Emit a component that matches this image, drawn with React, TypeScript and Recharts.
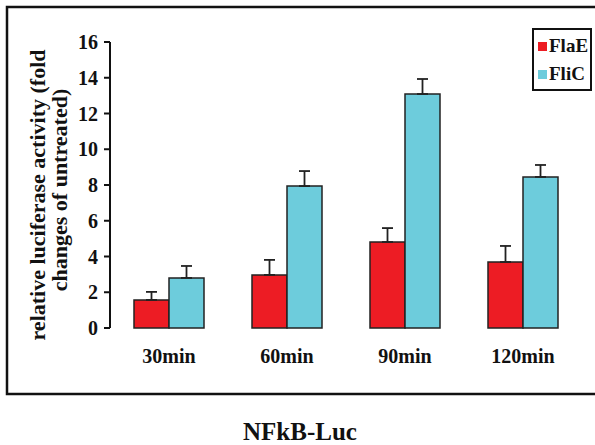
import React from 'react';
import { BarChart, Bar, XAxis, YAxis, ErrorBar, Legend } from 'recharts';

const categories = ['30min', '60min', '90min', '120min'];
const flaE = [1.57, 2.97, 4.81, 3.69];
const fliC = [2.8, 7.94, 13.09, 8.45];
const flaEErr = [0.45, 0.84, 0.78, 0.9];
const fliCErr = [0.67, 0.84, 0.84, 0.67];
const yTicks = [0, 2, 4, 6, 8, 10, 12, 14, 16];
const edgeTicks = [0, 1, 2, 3, 4];
const seriesNames = ['FlaE', 'FliC'];
const title = 'NFkB-Luc';
const yLabelLines = ['relative luciferase activity (fold', 'changes of untreated)'];

const RED = '#ED1C24';
const CYAN = '#6DCCDC';
const FONT = '"Liberation Serif", "Times New Roman", serif';

const data = categories.map((c, i) => ({
  cat: c,
  flaE: flaE[i],
  fliC: fliC[i],
  flaEErr: [0, flaEErr[i]],
  fliCErr: [0, fliCErr[i]],
}));

const LegendBox = () => (
  <div
    style={{
      width: 56,
      height: 59,
      border: '2px solid #111',
      background: '#fff',
      fontFamily: FONT,
      fontWeight: 'bold',
      fontSize: 19,
      color: '#111',
      boxSizing: 'content-box',
    }}
  >
    {seriesNames.map((n, i) => (
      <div key={n} style={{ display: 'flex', alignItems: 'center', height: 28, marginTop: i === 0 ? 2 : 0 }}>
        <span style={{ display: 'inline-block', width: 9, height: 9, background: i === 0 ? RED : CYAN, marginLeft: 4, marginRight: 2 }} />
        <span style={{ lineHeight: '20px', fontFamily: FONT }}>{n}</span>
      </div>
    ))}
  </div>
);

export default function App() {
  return (
    <div style={{ position: 'absolute', left: 0, top: 0, width: 595, height: 445, background: '#fff', overflow: 'hidden' }}>
      <svg width={595} height={445} style={{ position: 'absolute', left: 0, top: 0 }}>
        <rect x={7} y={7} width={600} height={387} fill="none" stroke="#111" strokeWidth={2.5} />
        <text x={300} y={440} textAnchor="middle" fontFamily={FONT} fontWeight="bold" fontSize={25} fill="#111">
          {title}
        </text>
        <text transform="translate(45,195) rotate(-90)" textAnchor="middle" fontFamily={FONT} fontWeight="bold" fontSize={22} fill="#111">
          {yLabelLines[0]}
        </text>
        <text transform="translate(67,190) rotate(-90)" textAnchor="middle" fontFamily={FONT} fontWeight="bold" fontSize={22} fill="#111">
          {yLabelLines[1]}
        </text>
      </svg>
      <div style={{ position: 'absolute', left: 0, top: 0 }}>
        <BarChart
          width={595}
          height={445}
          data={data}
          margin={{ top: 42, right: 13, left: 60, bottom: 77 }}
          barGap={0}
          barSize={35}
        >
          <XAxis
            xAxisId="edges"
            type="number"
            domain={[0, 4]}
            allowDataOverflow
            ticks={edgeTicks}
            tick={false}
            tickSize={7}
            height={0}
            axisLine={{ stroke: '#111', strokeWidth: 2 }}
            tickLine={{ stroke: '#111', strokeWidth: 2 }}
          />
          <XAxis
            xAxisId="cat"
            dataKey="cat"
            axisLine={false}
            tickLine={false}
            tickSize={0}
            tickMargin={21}
            height={40}
            interval={0}
            tick={{ fontFamily: FONT, fontWeight: 'bold', fontSize: 20, fill: '#111' }}
          />
          <YAxis
            domain={[0, 16]}
            ticks={yTicks}
            width={50}
            tickSize={6}
            tickMargin={6}
            interval={0}
            axisLine={{ stroke: '#111', strokeWidth: 2 }}
            tickLine={{ stroke: '#111', strokeWidth: 2 }}
            tick={{ fontFamily: FONT, fontWeight: 'bold', fontSize: 20, fill: '#111' }}
          />
          <Legend
            layout="vertical"
            align="center"
            verticalAlign="middle"
            content={() => <LegendBox />}
            wrapperStyle={{ left: 532, top: 28, width: 60 }}
          />
          <Bar xAxisId="cat" dataKey="flaE" name={seriesNames[0]} fill={RED} stroke="#222" strokeWidth={1.5} isAnimationActive={false}>
            <ErrorBar dataKey="flaEErr" width={5.5} stroke="#222" strokeWidth={1.8} direction="y" />
          </Bar>
          <Bar xAxisId="cat" dataKey="fliC" name={seriesNames[1]} fill={CYAN} stroke="#222" strokeWidth={1.5} isAnimationActive={false}>
            <ErrorBar dataKey="fliCErr" width={5.5} stroke="#222" strokeWidth={1.8} direction="y" />
          </Bar>
        </BarChart>
      </div>
    </div>
  );
}
